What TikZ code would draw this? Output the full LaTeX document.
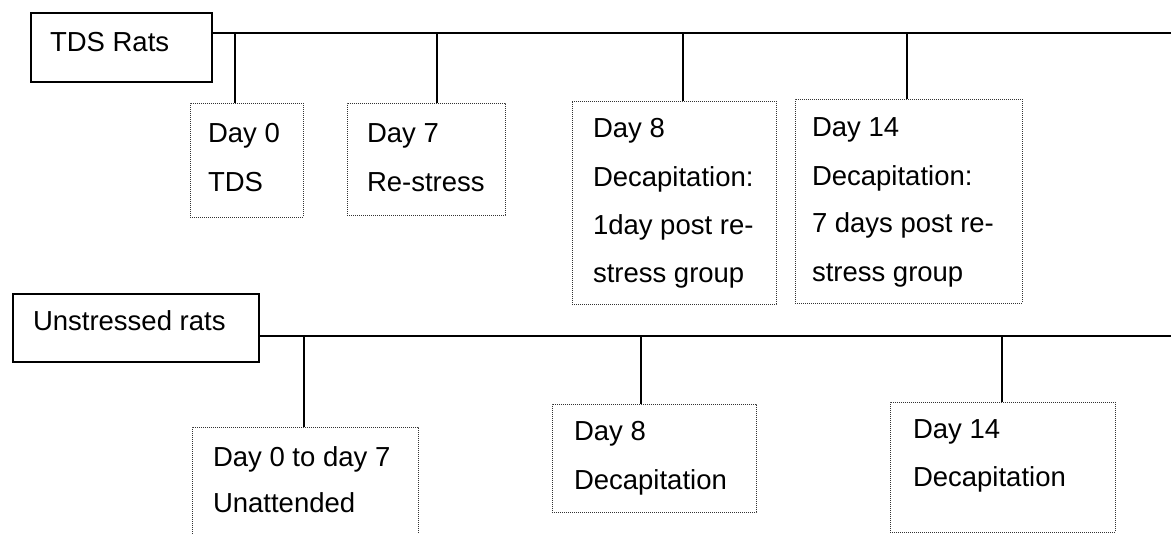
\documentclass[tikz,border=0pt]{standalone}
\usepackage{fontspec}
\setmainfont{Liberation Sans}
\begin{document}
\begin{tikzpicture}[x=1pt,y=-1pt,
  solidbox/.style={draw=black, line width=1.6pt, inner sep=0pt, outer sep=0pt, anchor=north west},
  dotbox/.style={draw=black!80, line width=0.9pt, dash pattern=on 0.9pt off 1.1pt, inner sep=0pt, outer sep=0pt, anchor=north west},
  lbl/.style={anchor=base west, inner sep=0pt, outer sep=0pt, font=\fontsize{27.5}{30}\selectfont},
  conn/.style={draw=black, line width=1.8pt}]
\useasboundingbox (0,0) rectangle (1171,534);
\clip (0,0) rectangle (1171,534);

% ---------- TDS rats ----------
\node[solidbox, minimum width=181, minimum height=69] (tds) at (31,13) {};
\node[lbl] (tdst) at (50,52) {TDS Rats};
\coordinate (tr) at (1171,33);
\coordinate (j1) at (235,33);
\coordinate (j2) at (437,33);
\coordinate (j3) at (683,33);
\coordinate (j4) at (907,33);

\node[dotbox, minimum width=113, minimum height=114] (d0) at (190,103) {};
\node[dotbox, minimum width=158, minimum height=112] (d7) at (347,103) {};
\node[dotbox, minimum width=204, minimum height=203] (d8) at (572,101) {};
\node[dotbox, minimum width=227, minimum height=204] (d14) at (795,99) {};

\draw[conn] (tds.east |- tr) -- (tr);
\draw[conn] (j1) -- (j1 |- d0.north);
\draw[conn] (j2) -- (j2 |- d7.north);
\draw[conn] (j3) -- (j3 |- d8.north);
\draw[conn] (j4) -- (j4 |- d14.north);

\node[lbl] (d0a) at (208,143) {Day 0};
\node[lbl] (d0b) at (208,192) {TDS};
\node[lbl] (d7a) at (367,143) {Day 7};
\node[lbl] (d7b) at (367,192) {Re-stress};
\node[lbl] (d8a) at (593,138) {Day 8};
\node[lbl] (d8b) at (593,187) {Decapitation:};
\node[lbl] (d8c) at (593,235) {1day post re-};
\node[lbl] (d8d) at (593,283) {stress group};
\node[lbl] (d14a) at (812,137) {Day 14};
\node[lbl] (d14b) at (812,186) {Decapitation:};
\node[lbl] (d14c) at (812,233) {7 days post re-};
\node[lbl] (d14d) at (812,282) {stress group};

% ---------- Unstressed rats ----------
\node[solidbox, minimum width=246, minimum height=68] (un) at (13,294) {};
\node[lbl] (unt) at (33,331) {Unstressed rats};
\coordinate (br) at (1171,336);
\coordinate (k1) at (304,336);
\coordinate (k2) at (641,336);
\coordinate (k3) at (1002,336);

\node[dotbox, minimum width=226, minimum height=130] (u07) at (192,427) {};
\node[dotbox, minimum width=204, minimum height=108] (u8) at (552,404) {};
\node[dotbox, minimum width=225, minimum height=130] (u14) at (890,402) {};

\draw[conn] (un.east |- br) -- (br);
\draw[conn] (k1) -- (k1 |- u07.north);
\draw[conn] (k2) -- (k2 |- u8.north);
\draw[conn] (k3) -- (k3 |- u14.north);

\node[lbl] (u07a) at (213,467) {Day 0 to day 7};
\node[lbl] (u07b) at (213,513) {Unattended};
\node[lbl] (u8a) at (574,441) {Day 8};
\node[lbl] (u8b) at (574,490) {Decapitation};
\node[lbl] (u14a) at (913,439) {Day 14};
\node[lbl] (u14b) at (913,487) {Decapitation};
\end{tikzpicture}
\end{document}
